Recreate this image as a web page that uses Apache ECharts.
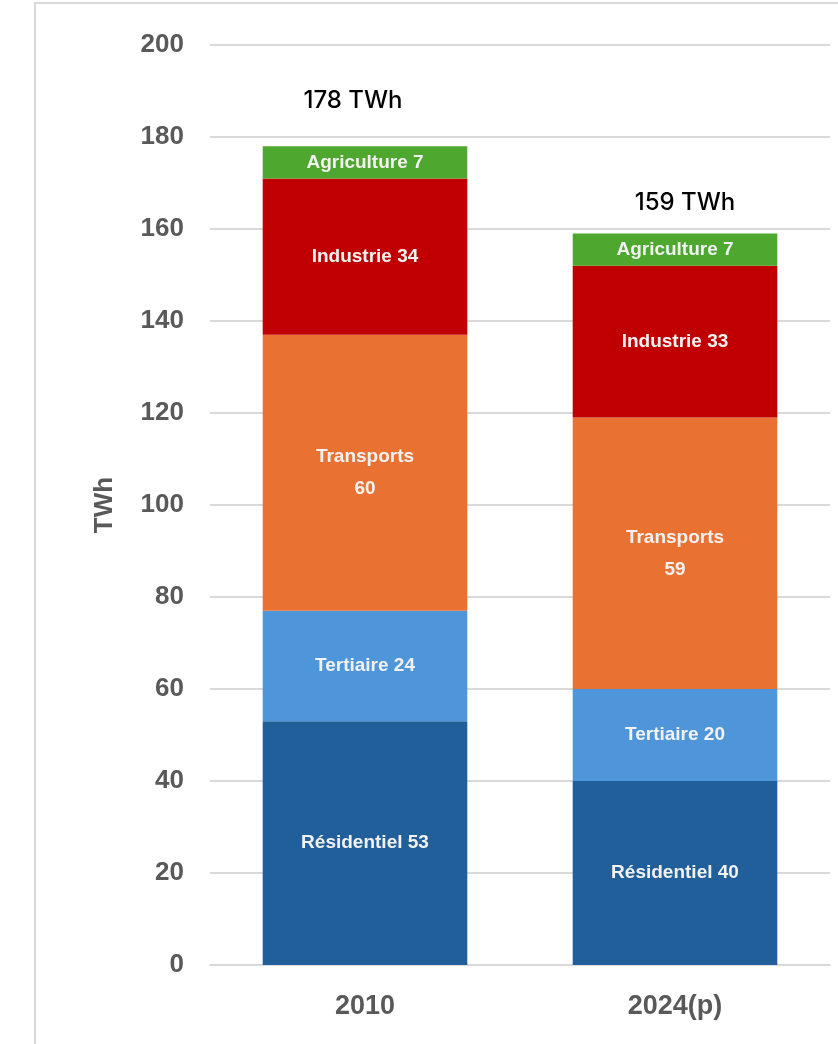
<!DOCTYPE html>
<html>
<head>
<meta charset="utf-8">
<script src="https://cdn.jsdelivr.net/npm/echarts@6/dist/echarts.min.js"></script>
<style>
  html, body { margin: 0; padding: 0; background: #fff; }
  #chart { width: 838px; height: 1044px; }
</style>
</head>
<body>
<div id="chart"></div>
<script>
const categories = ['2010', '2024(p)']
const sectors = ['Résidentiel', 'Tertiaire', 'Transports', 'Industrie', 'Agriculture']
const residentiel = [53, 40]
const tertiaire = [24, 20]
const transports = [60, 59]
const industrie = [34, 33]
const agriculture = [7, 7]
const totals = [178, 159]
const yTicks = [0, 20, 40, 60, 80, 100, 120, 140, 160, 180, 200]

const colors = ['#215f9a', '#4e95d9', '#e97132', '#c00000', '#4ea72e']
const seriesValues = [residentiel, tertiaire, transports, industrie, agriculture]
// total labels were placed by hand in the original, a bit off each bar top
const totalLabelPlacement = [
  { distance: 33, offset: [-12, 0] },
  { distance: 19, offset: [10, 0] }
]

const labelFont = '"Liberation Sans Narrow", "Liberation Sans", Arial, sans-serif'

const chart = echarts.init(document.getElementById('chart'))

const stackSeries = sectors.map((name, i) => ({
  name,
  type: 'bar',
  stack: 'total',
  barWidth: '66%',
  data: seriesValues[i],
  itemStyle: { color: colors[i] },
  label: {
    show: true,
    position: 'inside',
    color: '#f2f2f2',
    fontFamily: labelFont,
    fontWeight: 'bold',
    fontSize: 19,
    lineHeight: 32,
    formatter: p => name === 'Transports' ? `${name}\n${p.value}` : `${name} ${p.value}`
  }
}))

// zero-height bar on top of each stack, only used to place the total label
stackSeries.push({
  name: 'Total',
  type: 'bar',
  stack: 'total',
  barWidth: '66%',
  data: totals.map((t, i) => ({ value: 0, label: totalLabelPlacement[i] })),
  itemStyle: { color: 'transparent' },
  label: {
    show: true,
    position: 'top',
    color: '#000',
    fontFamily: 'Inter, "Noto Sans", sans-serif',
    fontWeight: 500,
    fontSize: 24,
    formatter: p => `${totals[p.dataIndex]} TWh`
  }
})

chart.setOption({
  animation: false,
  graphic: [{
    type: 'rect',
    shape: { x: 35, y: 3, width: 900, height: 1100 },
    style: { fill: 'none', stroke: '#d9d9d9', lineWidth: 2 },
    silent: true
  }],
  grid: { left: 210, right: 8, top: 45, bottom: 79 },
  xAxis: {
    type: 'category',
    data: categories,
    axisLine: { lineStyle: { color: '#d9d9d9', width: 2 } },
    axisTick: { show: false },
    axisLabel: {
      margin: 28,
      color: '#595959',
      fontFamily: labelFont,
      fontWeight: 'bold',
      fontSize: 27
    }
  },
  yAxis: {
    type: 'value',
    min: yTicks[0],
    max: yTicks[yTicks.length - 1],
    interval: 20,
    name: 'TWh',
    nameLocation: 'middle',
    nameGap: 92,
    nameRotate: 90,
    nameTextStyle: {
      color: '#595959',
      fontFamily: labelFont,
      fontWeight: 'bold',
      fontSize: 26
    },
    axisLine: { show: false },
    axisTick: { show: false },
    splitLine: { lineStyle: { color: '#d9d9d9', width: 2 } },
    axisLabel: {
      margin: 26,
      color: '#595959',
      fontFamily: labelFont,
      fontWeight: 'bold',
      fontSize: 26
    }
  },
  series: stackSeries
})
</script>
</body>
</html>
